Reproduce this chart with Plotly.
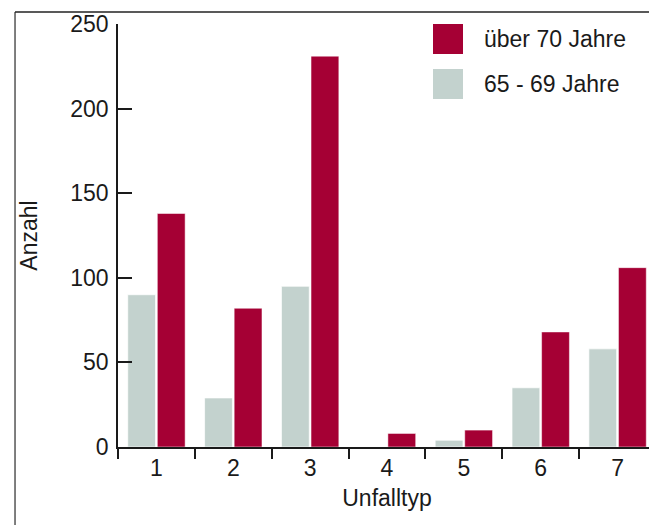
import plotly.graph_objects as go

categories = ["1", "2", "3", "4", "5", "6", "7"]
age_65_69 = [90, 29, 95, 0, 4, 35, 58]
age_70_plus = [138, 82, 231, 8, 10, 68, 106]
series_names = ["über 70 Jahre", "65 - 69 Jahre"]
y_ticks = [0, 50, 100, 150, 200, 250]

grey = "#C3D2CE"
red = "#A50034"
font = "Liberation Sans, Arial, sans-serif"

fig = go.Figure()

fig.add_trace(go.Bar(
    x=categories,
    y=age_65_69,
    name=series_names[1],
    marker_color=grey,
    marker_line=dict(color="rgba(255,255,255,0.7)", width=1),
    showlegend=False
))

fig.add_trace(go.Bar(
    x=categories,
    y=age_70_plus,
    name=series_names[0],
    marker_color=red,
    marker_line=dict(color="rgba(255,255,255,0.5)", width=1),
    showlegend=False
))

# legend drawn by hand: big squares like in the original
legend_shapes = []
legend_notes = []
for i, (name, col) in enumerate(zip(series_names, [red, grey])):
    top = 1.0 - i * 0.1064
    legend_shapes.append(dict(
        type="rect", xref="paper", yref="paper",
        x0=0.5855, x1=0.6413, y0=top - 0.0709, y1=top,
        fillcolor=col, line=dict(width=0)
    ))
    legend_notes.append(dict(
        xref="paper", yref="paper", x=0.6766, y=top - 0.0355,
        text=name, showarrow=False, xanchor="left", yanchor="middle",
        font=dict(size=23, color="#1a1a1a")
    ))

# frame around the whole picture (bottom edge is cut off)
frame = [
    dict(type="line", xref="paper", yref="paper", x0=-0.1914, x1=-0.1914,
         y0=1.0284, y1=-0.3, line=dict(color="#555555", width=1.5)),
    dict(type="line", xref="paper", yref="paper", x0=-0.1914, x1=0.9907,
         y0=1.0284, y1=1.0284, line=dict(color="#222222", width=1.5)),
    dict(type="line", xref="paper", yref="paper", x0=0.9907, x1=0.9907,
         y0=1.0284, y1=-0.3, line=dict(color="#555555", width=1.5)),
]

# page body has an 8px margin, so the figure is a bit smaller than the window
fig.update_layout(
    width=649, height=517,
    barmode="group",
    bargap=0.23,
    bargroupgap=0.06,
    margin=dict(l=110, r=1, t=16, b=78),
    paper_bgcolor="white",
    plot_bgcolor="white",
    font=dict(family=font, size=23, color="#1a1a1a"),
    xaxis=dict(
        type="category",
        title=dict(text="Unfalltyp", standoff=10, font=dict(size=23)),
        showline=True, linecolor="#1a1a1a", linewidth=1.5,
        ticks="outside", tickson="boundaries", ticklen=10,
        tickcolor="#1a1a1a", tickwidth=1.5,
        tickfont=dict(size=23),
        showgrid=False, zeroline=False
    ),
    yaxis=dict(
        title=dict(text="Anzahl", standoff=26, font=dict(size=23)),
        range=[0, 250],
        tickvals=y_ticks,
        showline=True, linecolor="#1a1a1a", linewidth=1.5,
        ticks="inside", ticklen=14, tickcolor="#1a1a1a", tickwidth=1.5,
        ticklabelstandoff=3,
        tickfont=dict(size=23),
        showgrid=False, zeroline=False
    ),
    shapes=legend_shapes + frame,
    annotations=legend_notes
)

fig.write_html("out.html")
